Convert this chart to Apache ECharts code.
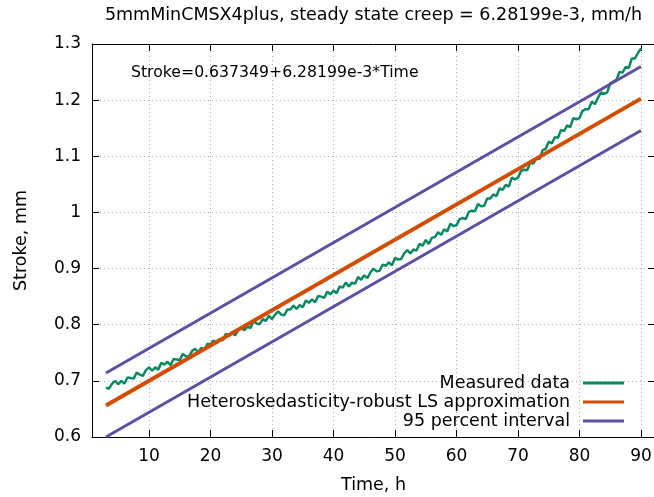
<!DOCTYPE html>
<html><head><meta charset="utf-8">
<script src="https://cdn.jsdelivr.net/npm/echarts@6/dist/echarts.min.js"></script>
<style>html,body{margin:0;padding:0;background:#fff}#c{width:654px;height:497px}</style>
</head><body><div id="c"></div>
<script>
const titleText = '5mmMinCMSX4plus, steady state creep = 6.28199e-3, mm/h';
const equationText = 'Stroke=0.637349+6.28199e-3*Time';
const xName = 'Time, h';
const yName = 'Stroke, mm';
const legendNames = ['Measured data', 'Heteroskedasticity-robust LS approximation', '95 percent interval'];

// measured data: sampled every 0.5 h starting at 3 h
const measuredStart = 3;
const measuredStep = 0.5;
const measured = [
0.688,0.686,0.695,0.700,0.694,0.700,0.695,0.706,0.705,0.704,
0.715,0.711,0.709,0.719,0.724,0.718,0.724,0.720,0.732,0.729,
0.734,0.728,0.739,0.738,0.737,0.748,0.744,0.743,0.753,0.757,
0.751,0.759,0.755,0.766,0.765,0.772,0.767,0.775,0.772,0.784,
0.780,0.786,0.781,0.790,0.795,0.790,0.797,0.794,0.806,0.802,
0.801,0.810,0.807,0.816,0.810,0.818,0.824,0.818,0.817,0.827,
0.827,0.834,0.828,0.835,0.831,0.843,0.839,0.845,0.840,0.851,
0.850,0.848,0.859,0.854,0.861,0.856,0.868,0.866,0.875,0.868,
0.875,0.873,0.885,0.880,0.888,0.883,0.893,0.900,0.895,0.896,
0.907,0.905,0.911,0.906,0.919,0.916,0.917,0.927,0.933,0.927,
0.934,0.932,0.944,0.941,0.951,0.944,0.955,0.956,0.965,0.960,
0.970,0.966,0.980,0.976,0.977,0.988,0.990,0.988,1.001,1.003,
1.002,1.015,1.011,1.012,1.025,1.025,1.032,1.029,1.043,1.040,
1.049,1.046,1.062,1.059,1.062,1.074,1.076,1.075,1.089,1.087,
1.097,1.095,1.111,1.113,1.126,1.123,1.134,1.133,1.147,1.145,
1.155,1.152,1.168,1.166,1.168,1.181,1.184,1.184,1.197,1.193,
1.204,1.214,1.211,1.214,1.230,1.233,1.236,1.250,1.249,1.259,
1.257,1.274,1.274,1.284,1.292
];

// fitted line and 95% interval, endpoints at t = 3 h and t = 90 h
const lineT = [3, 90];
const fitLine = [0.6562, 1.2027];
const upperLine = [0.714, 1.260];
const lowerLine = [0.600, 1.146];

const xRange = [0.73, 92.28];
const yRange = [0.6, 1.3];
const yStep = 0.1;

const FONT = '"DejaVu Sans", Verdana, sans-serif';
const GREEN = '#0b8a62', ORANGE = '#d24d00', PURPLE = '#5f4ea6';

const measuredData = measured.map((v, i) => [measuredStart + i * measuredStep, v]);
const pair = arr => lineT.map((t, i) => [t, arr[i]]);

const chart = echarts.init(document.getElementById('c'), null, {renderer: 'canvas'});
const axisLineStyle = {color: '#000', width: 1};
const tickStyle = {fontFamily: FONT, fontSize: 17, color: '#000'};
const nameStyle = {fontFamily: FONT, fontSize: 17.5, color: '#000'};
const gridLine = {show: true, lineStyle: {type: [1, 3], color: '#b4b4b4', width: 1}};

chart.setOption({
  animation: false,
  backgroundColor: '#fff',
  grid: {left: 92, top: 44, right: -1, bottom: 60, outerBoundsMode: 'none', containLabel: false},
  graphic: [
    {type: 'text', x: 373.5, y: 15.5, style: {text: titleText, align: 'center', verticalAlign: 'middle', fontFamily: FONT, fontSize: 17.5, fill: '#000'}},
    {type: 'text', x: 131, y: 73, z: 100, style: {text: equationText, align: 'left', verticalAlign: 'middle', fontFamily: FONT, fontSize: 15.7, fill: '#000'}}
  ],
  legend: {
    orient: 'vertical', right: 30, top: 373.5, align: 'right', padding: 0,
    itemWidth: 41, itemHeight: 3, itemGap: 0, icon: 'rect',
    selectedMode: false,
    data: legendNames,
    textStyle: {fontFamily: FONT, fontSize: 17.5, color: '#000', lineHeight: 19, padding: [0, 8, 0, 0]}
  },
  xAxis: [
    {type: 'value', position: 'bottom', min: xRange[0], max: xRange[1], splitNumber: 9,
     name: xName, nameLocation: 'middle', nameGap: 39, nameTextStyle: nameStyle,
     axisLine: {show: true, onZero: false, lineStyle: axisLineStyle},
     axisTick: {show: true, inside: true, length: 7, lineStyle: axisLineStyle},
     axisLabel: {showMinLabel: false, showMaxLabel: false, margin: 11, ...tickStyle},
     splitLine: gridLine},
    {type: 'value', position: 'top', min: xRange[0], max: xRange[1], splitNumber: 9,
     axisLine: {show: true, onZero: false, lineStyle: axisLineStyle},
     axisTick: {show: true, inside: true, length: 7, lineStyle: axisLineStyle},
     axisLabel: {show: false}, splitLine: {show: false}}
  ],
  yAxis: [
    {type: 'value', position: 'left', min: yRange[0], max: yRange[1], interval: yStep,
     name: yName, nameLocation: 'middle', nameGap: 62, nameTextStyle: nameStyle,
     axisLine: {show: true, onZero: false, lineStyle: axisLineStyle},
     axisTick: {show: true, inside: true, length: 7, lineStyle: axisLineStyle},
     axisLabel: {margin: 11, ...tickStyle},
     splitLine: gridLine},
    {type: 'value', position: 'right', min: yRange[0], max: yRange[1], interval: yStep,
     axisLine: {show: true, onZero: false, lineStyle: axisLineStyle},
     axisTick: {show: true, inside: true, length: 7, lineStyle: axisLineStyle},
     axisLabel: {show: false}, splitLine: {show: false}}
  ],
  series: [
    {name: legendNames[0], type: 'line', data: measuredData, symbol: 'none', color: GREEN,
     lineStyle: {color: GREEN, width: 2.5}, z: 2},
    {name: legendNames[1], type: 'line', data: pair(fitLine), symbol: 'none', color: ORANGE,
     lineStyle: {color: ORANGE, width: 4}, z: 3},
    {name: legendNames[2], type: 'line', data: pair(upperLine), symbol: 'none', color: PURPLE,
     lineStyle: {color: PURPLE, width: 3}, z: 4},
    {name: legendNames[2], type: 'line', data: pair(lowerLine), symbol: 'none', color: PURPLE,
     lineStyle: {color: PURPLE, width: 3}, z: 4}
  ]
});
</script>
</body></html>
